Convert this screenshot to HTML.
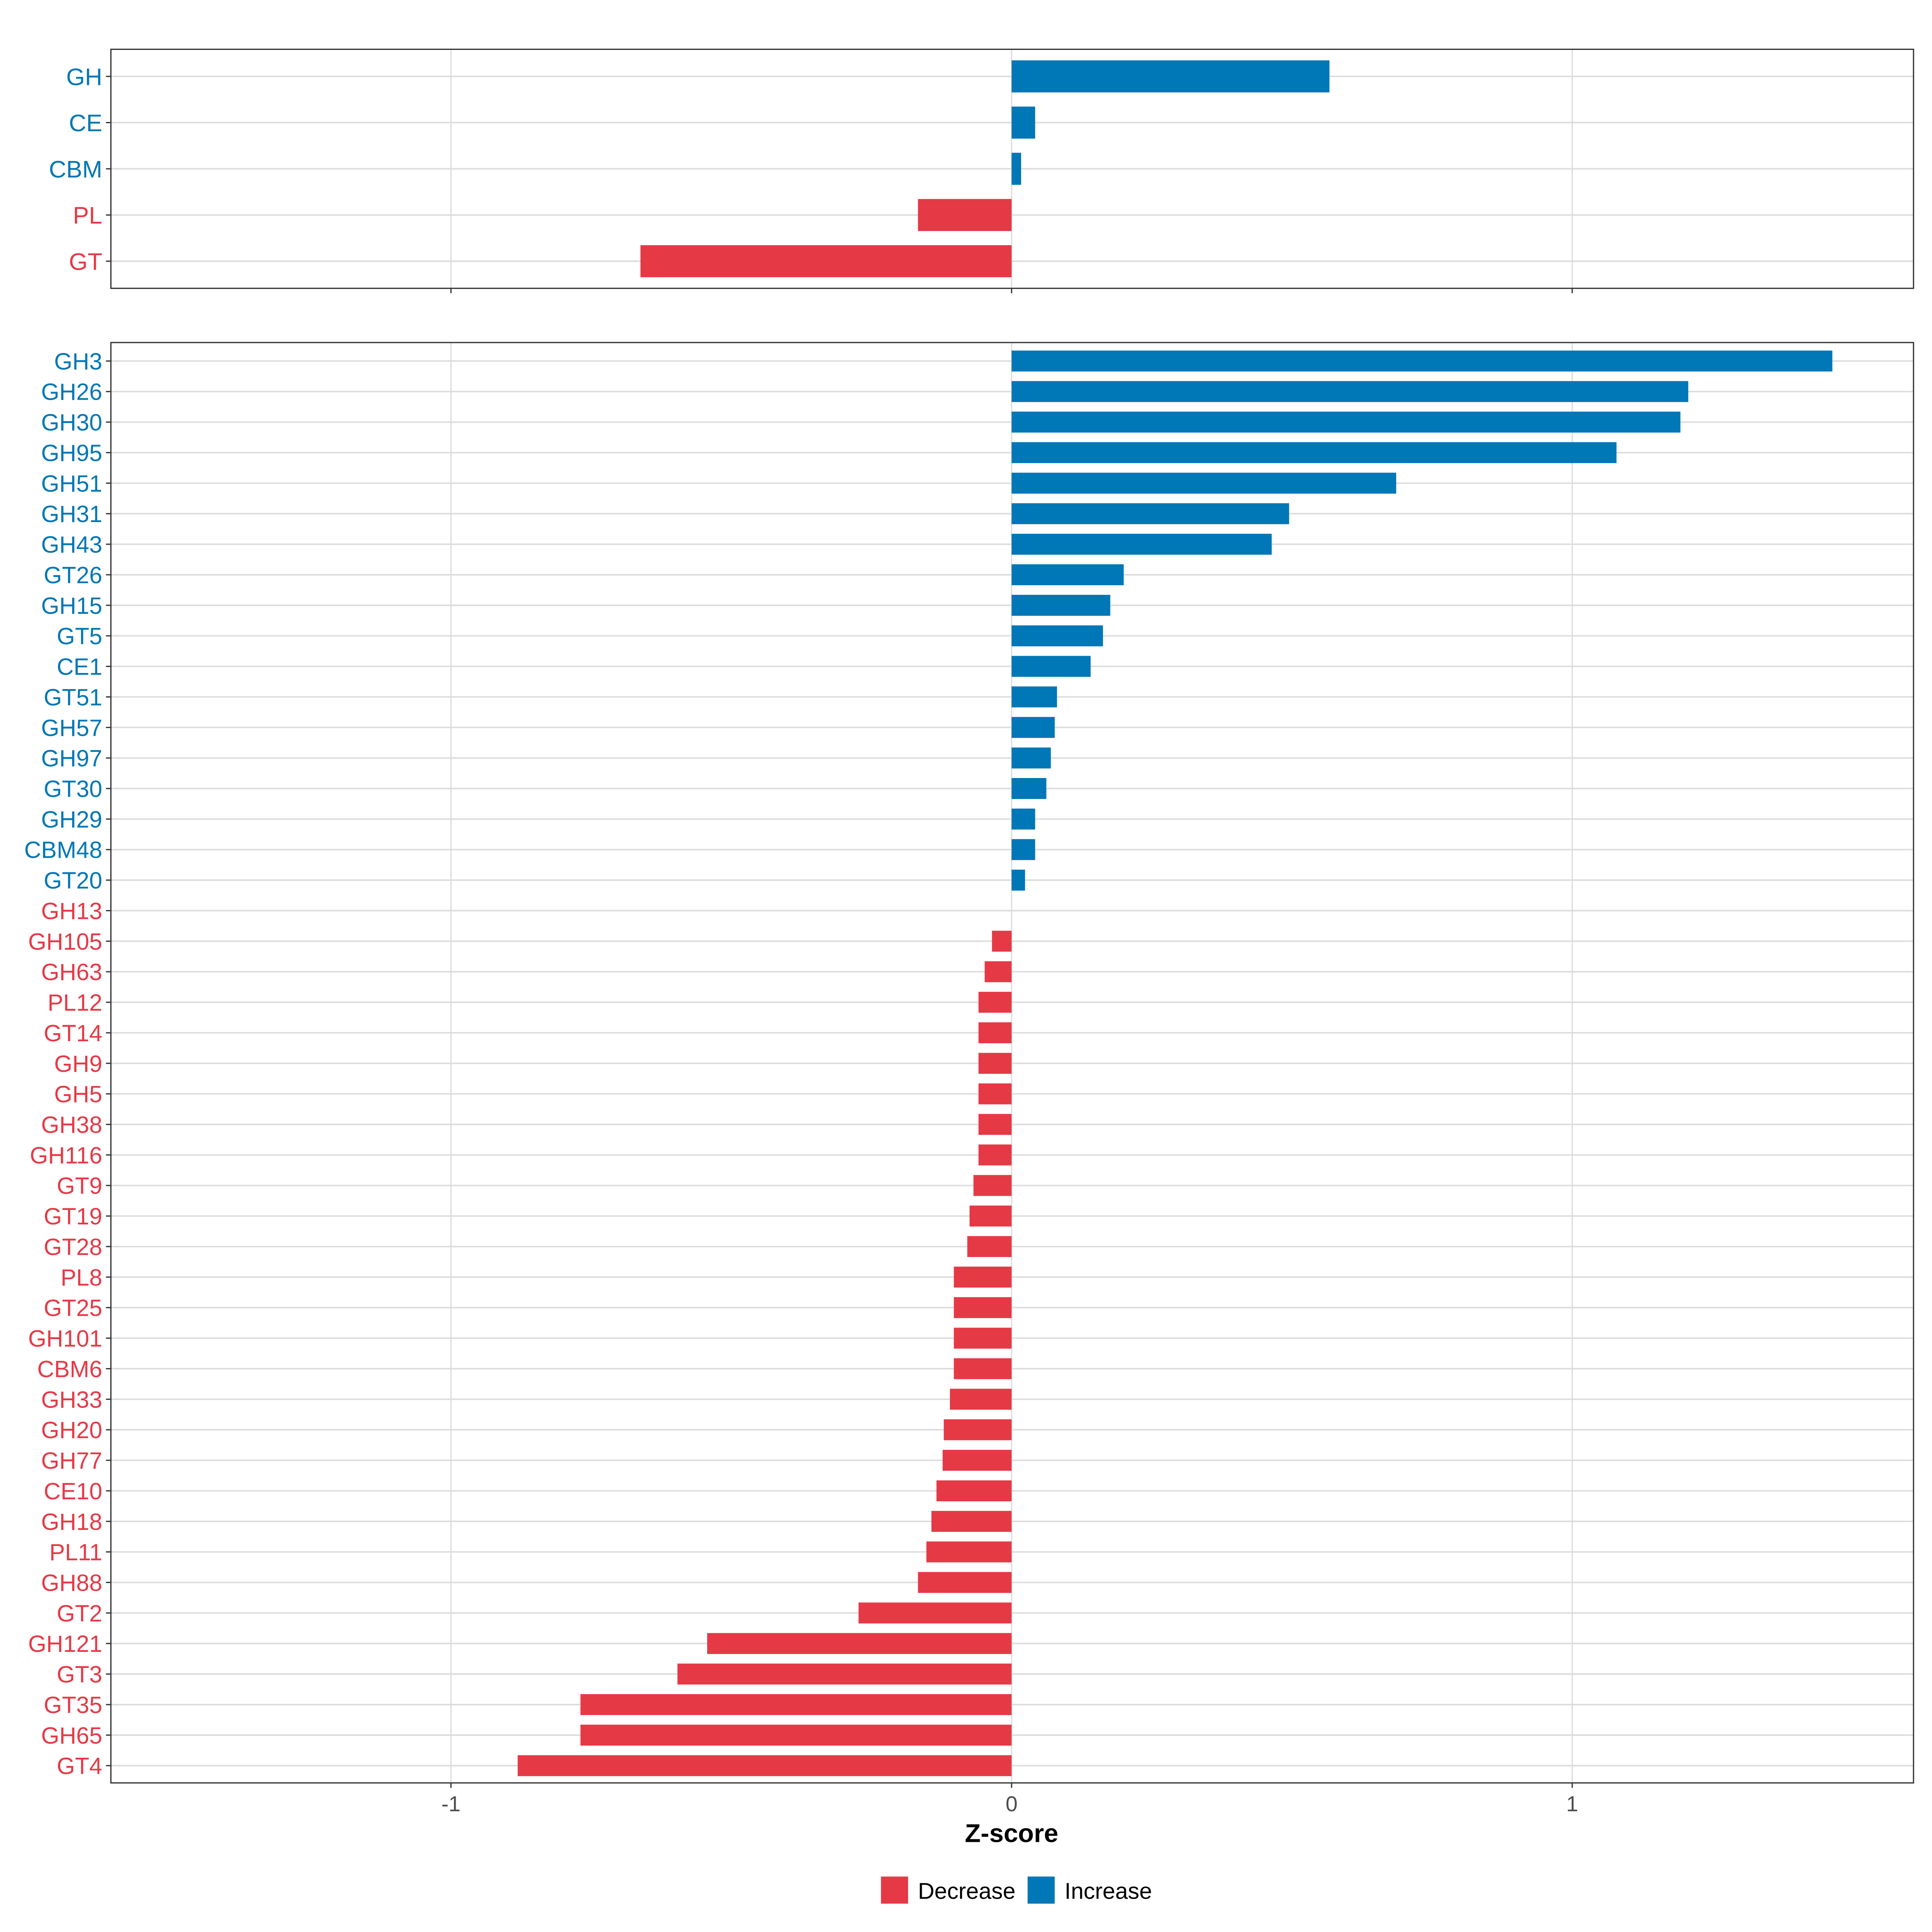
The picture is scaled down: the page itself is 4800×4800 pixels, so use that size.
<!DOCTYPE html>
<html><head><meta charset="utf-8"><style>html,body{margin:0;padding:0;background:#fff}svg{display:block}</style></head>
<body>
<svg id="chart" xmlns="http://www.w3.org/2000/svg" width="4800" height="4800" viewBox="0 0 1568 1568" font-family="Liberation Sans, sans-serif"></svg>
<script>
const topCats = ["GH","CE","CBM","PL","GT"];
const topVals = [0.567,0.042,0.017,-0.167,-0.662];
const botCats = ["GH3","GH26","GH30","GH95","GH51","GH31","GH43","GT26","GH15","GT5","CE1","GT51","GH57","GH97","GT30","GH29","CBM48","GT20","GH13","GH105","GH63","PL12","GT14","GH9","GH5","GH38","GH116","GT9","GT19","GT28","PL8","GT25","GH101","CBM6","GH33","GH20","GH77","CE10","GH18","PL11","GH88","GT2","GH121","GT3","GT35","GH65","GT4"];
const botVals = [1.464,1.207,1.193,1.079,0.686,0.495,0.464,0.200,0.176,0.163,0.141,0.081,0.077,0.070,0.062,0.042,0.042,0.024,0,-0.035,-0.048,-0.059,-0.059,-0.059,-0.059,-0.059,-0.059,-0.068,-0.075,-0.079,-0.103,-0.103,-0.103,-0.103,-0.110,-0.121,-0.123,-0.134,-0.143,-0.152,-0.167,-0.273,-0.543,-0.596,-0.769,-0.769,-0.881];
const xTicks = [-1,0,1];
const xTickLabels = ["-1","0","1"];

const NS="http://www.w3.org/2000/svg";
const svg=document.getElementById('chart');
const RED="#E63946", BLUE="#0077B6";
const PL=90, PR=1553;
const x = v => 821 + v*455;
function mk(tag,attrs,parent){const e=document.createElementNS(NS,tag);for(const k in attrs)e.setAttribute(k,attrs[k]);(parent||svg).appendChild(e);return e;}

function panel(name,cats,vals,top,bottom,y0,step,barH,fs){
  const g=mk('g',{});
  
  
  xTicks.forEach(t=>{const l=mk('line',{x1:x(t),x2:x(t),y1:top,y2:bottom,stroke:"#dcdcdc","stroke-width":1},g);
    
    });
  const y=i=>y0+i*step;
  cats.forEach((c,i)=>{
    const gl=mk('line',{x1:PL,x2:PR,y1:y(i),y2:y(i),stroke:"#dcdcdc","stroke-width":1.2},g);
    
    
  });
  cats.forEach((c,i)=>{
    const v=vals[i], col=v>0?BLUE:RED;
    if(v!==0){
      const r=mk('rect',{x:Math.min(x(0),x(v)),y:y(i)-barH/2,width:Math.abs(x(v)-x(0)),height:barH,fill:col},g);
      
      
    }
    const tk=mk('line',{x1:PL-4,x2:PL,y1:y(i),y2:y(i),stroke:"#333","stroke-width":1},g);
    
    
    const t=mk('text',{x:PL-7,y:y(i)+fs*0.36,"text-anchor":"end","font-size":fs,fill:col},g);
    t.textContent=c;
    
    
  });
  xTicks.forEach(t=>{const l=mk('line',{x1:x(t),x2:x(t),y1:bottom,y2:bottom+4,stroke:"#333","stroke-width":1},g);
    
    });
  const b=mk('rect',{x:PL,y:top,width:PR-PL,height:bottom-top,fill:"none",stroke:"#333","stroke-width":1},g);
  
  
}
panel('top-panel',topCats,topVals,40,234,62,37.5,26,19.5);
panel('bottom-panel',botCats,botVals,278,1447,293,(1433-293)/46,17,19);

xTicks.forEach((t,i)=>{const e=mk('text',{x:x(t),y:1470,"text-anchor":"middle","font-size":17.5,fill:"#4d4d4d"});
  e.textContent=xTickLabels[i];
  
  });
const xt=mk('text',{x:821,y:1495,"text-anchor":"middle","font-size":21,"font-weight":"bold",fill:"#000"});
xt.textContent="Z-score";



const lg=mk('g',{});


[[715,RED,"Decrease",745],[834,BLUE,"Increase",864]].forEach(([rx,c,txt,tx])=>{
  const r=mk('rect',{x:rx,y:1523,width:22,height:22,fill:c},lg);
  
  
  const t=mk('text',{x:tx,y:1541,"font-size":18.5,fill:"#000"},lg);
  t.textContent=txt;
  
  
});
</script>
</body></html>
